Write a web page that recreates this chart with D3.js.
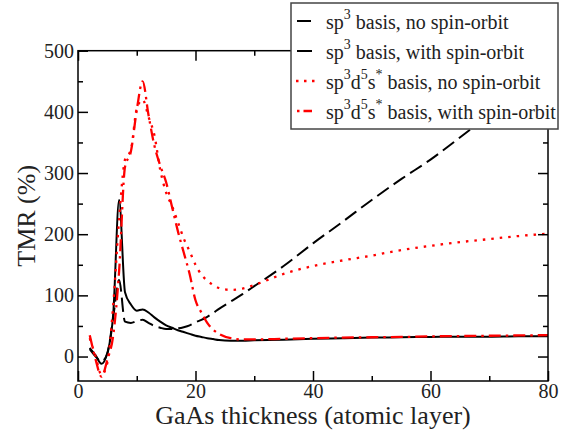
<!DOCTYPE html>
<html><head><meta charset="utf-8">
<script src="https://cdn.jsdelivr.net/npm/d3@7"></script>
<style>body{margin:0;background:#fff}svg{display:block}</style>
</head><body><div id="chart"></div>
<script>
const thickness = [2,3,4,5,6,7,8,9,10,11,12,13,14,15,16,17,18,19,20,21,22,23,24,26,28,30,35,40,45,50,55,60,65,70,75,80];
const sp3NoSO   = [12,0,-8,5,65,125,57,55,58,60,55,50,47,45,45,46,48,51,56,60,65,71,78,90,102,115,148,185,220,256,290,322,358,395,430,465];
const sp3SO     = [14,2,-12,6,70,256,105,85,75,77,72,64,57,51,47,43,40,37,34,32,30,28.5,27,26,26,26.5,27.5,29,30,31,31.5,32,32.5,32.5,33,33];
const spdsNoSO  = [30,0,-30,-10,85,225,322,338,405,420,392,362,305,268,246,220,193,172,150,134,124,117,112,109,111,117,135,148,157,165,174,181,187,192,197,201];
const spdsSO    = [35,-5,-33,-5,35,140,310,335,403,450,395,345,312,285,245,205,170,135,92,72,55,44,37,30,28,28,29,30,31,31.5,32,33,33.5,34,34.5,35];
const xTicks = [0,20,40,60,80];
const yTicks = [0,100,200,300,400,500];
const legendLabels = [
  [["sp",0],["3",1],[" basis, no spin-orbit",0]],
  [["sp",0],["3",1],[" basis, with spin-orbit",0]],
  [["sp",0],["3",1],["d",0],["5",1],["s",0],["*",1],[" basis, no spin-orbit",0]],
  [["sp",0],["3",1],["d",0],["5",1],["s",0],["*",1],[" basis, with spin-orbit",0]]
];

const FONT = "'Liberation Serif'";
const TXT = "#222";
const W = 572, H = 433;
const L = 78, R = 548, T = 50.7, B = 381;
const svg = d3.select("#chart").append("svg").attr("width", W).attr("height", H);
const x = d3.scaleLinear().domain([0,80]).range([L,R]);
const y = d3.scaleLinear().domain([-40,500]).range([B,T]);

svg.append("clipPath").attr("id","clip").append("rect")
  .attr("x",L).attr("y",T).attr("width",R-L).attr("height",B-T);

const styles = [
  {data: sp3NoSO, color:"#000", dash:"14,6", w:2},
  {data: sp3SO, color:"#000", dash:null, w:2},
  {data: spdsNoSO, color:"#ff0000", dash:"2.5,6", w:2.3},
  {data: spdsSO, color:"#ff0000", dash:"12,5,2.5,5", w:2.3}
];
const line = d3.line().x((d,i)=>x(thickness[i])).y(d=>y(d)).curve(d3.curveMonotoneX);
const g = svg.append("g").attr("clip-path","url(#clip)");
styles.forEach(s => {
  g.append("path").datum(s.data).attr("d", line)
   .attr("fill","none").attr("stroke", s.color).attr("stroke-width", s.w)
   .attr("stroke-dasharray", s.dash);
});

const xMinor = d3.range(0,81,10).filter(v=>!xTicks.includes(v));
const yMinor = d3.range(0,501,50).filter(v=>!yTicks.includes(v));
function styleAxis(a){
  a.attr("font-family", null);
  a.select(".domain").remove();
  a.selectAll("line").attr("stroke","#000").attr("stroke-width",1.5);
  a.selectAll("text").style("font-family",FONT).attr("font-size",20).attr("fill",TXT);
}
// bottom
svg.append("g").attr("transform",`translate(0,${B})`)
  .call(d3.axisBottom(x).tickValues(xTicks).tickSize(-10).tickPadding(3).tickFormat(d3.format("d"))).call(styleAxis);
svg.append("g").attr("transform",`translate(0,${B})`)
  .call(d3.axisBottom(x).tickValues(xMinor).tickSize(-5).tickFormat("")).call(styleAxis);
// top
svg.append("g").attr("transform",`translate(0,${T})`)
  .call(d3.axisTop(x).tickValues(xTicks).tickSize(-10).tickFormat("")).call(styleAxis);
svg.append("g").attr("transform",`translate(0,${T})`)
  .call(d3.axisTop(x).tickValues(xMinor).tickSize(-5).tickFormat("")).call(styleAxis);
// left
svg.append("g").attr("transform",`translate(${L},0)`)
  .call(d3.axisLeft(y).tickValues(yTicks).tickSize(-10).tickPadding(4).tickFormat(d3.format("d"))).call(styleAxis);
svg.append("g").attr("transform",`translate(${L},0)`)
  .call(d3.axisLeft(y).tickValues(yMinor).tickSize(-5).tickFormat("")).call(styleAxis);
// right
svg.append("g").attr("transform",`translate(${R},0)`)
  .call(d3.axisRight(y).tickValues(yTicks).tickSize(-10).tickFormat("")).call(styleAxis);
svg.append("g").attr("transform",`translate(${R},0)`)
  .call(d3.axisRight(y).tickValues(yMinor).tickSize(-5).tickFormat("")).call(styleAxis);

svg.append("rect").attr("x",L).attr("y",T).attr("width",R-L).attr("height",B-T)
  .attr("fill","none").attr("stroke","#000").attr("stroke-width",1.5);

// axis titles
svg.append("text").attr("x",(L+R)/2).attr("y",424).attr("text-anchor","middle")
  .style("font-family",FONT).attr("fill",TXT).attr("font-size",26).text("GaAs thickness (atomic layer)");
svg.append("text").attr("transform",`translate(35,${(T+B)/2}) rotate(-90)`).attr("text-anchor","middle")
  .style("font-family",FONT).attr("fill",TXT).attr("font-size",26).text("TMR (%)");

// legend
const lg = svg.append("g");
lg.append("rect").attr("x",291).attr("y",3).attr("width",267).attr("height",126)
  .attr("fill","#fff").attr("stroke","#444").attr("stroke-width",1.5);
legendLabels.forEach((parts,i)=>{
  const by = 29 + i*30;
  const s = styles[i];
  let x0 = 297, x1 = 312;
  if (i===2) { x0 = 296; x1 = 316; }
  lg.append("line").attr("x1",x0).attr("x2",x1).attr("y1",by-8).attr("y2",by-8)
    .attr("stroke",s.color).attr("stroke-width",s.w).attr("stroke-dasharray", i===3 ? "2.5,4,12" : (i===2 ? "2.5,5.5" : s.dash));
  const t = lg.append("text").attr("x",326).attr("y",by).attr("font-size",20)
    .style("font-family",FONT).attr("fill",TXT);
  parts.forEach(([txt,sup],j)=>{
    const prevSup = j>0 && parts[j-1][1];
    if (sup) t.append("tspan").attr("font-size",14).attr("dy",prevSup?0:-10).text(txt);
    else t.append("tspan").attr("dy", prevSup?10:0).text(txt);
  });
});
</script></body></html>
